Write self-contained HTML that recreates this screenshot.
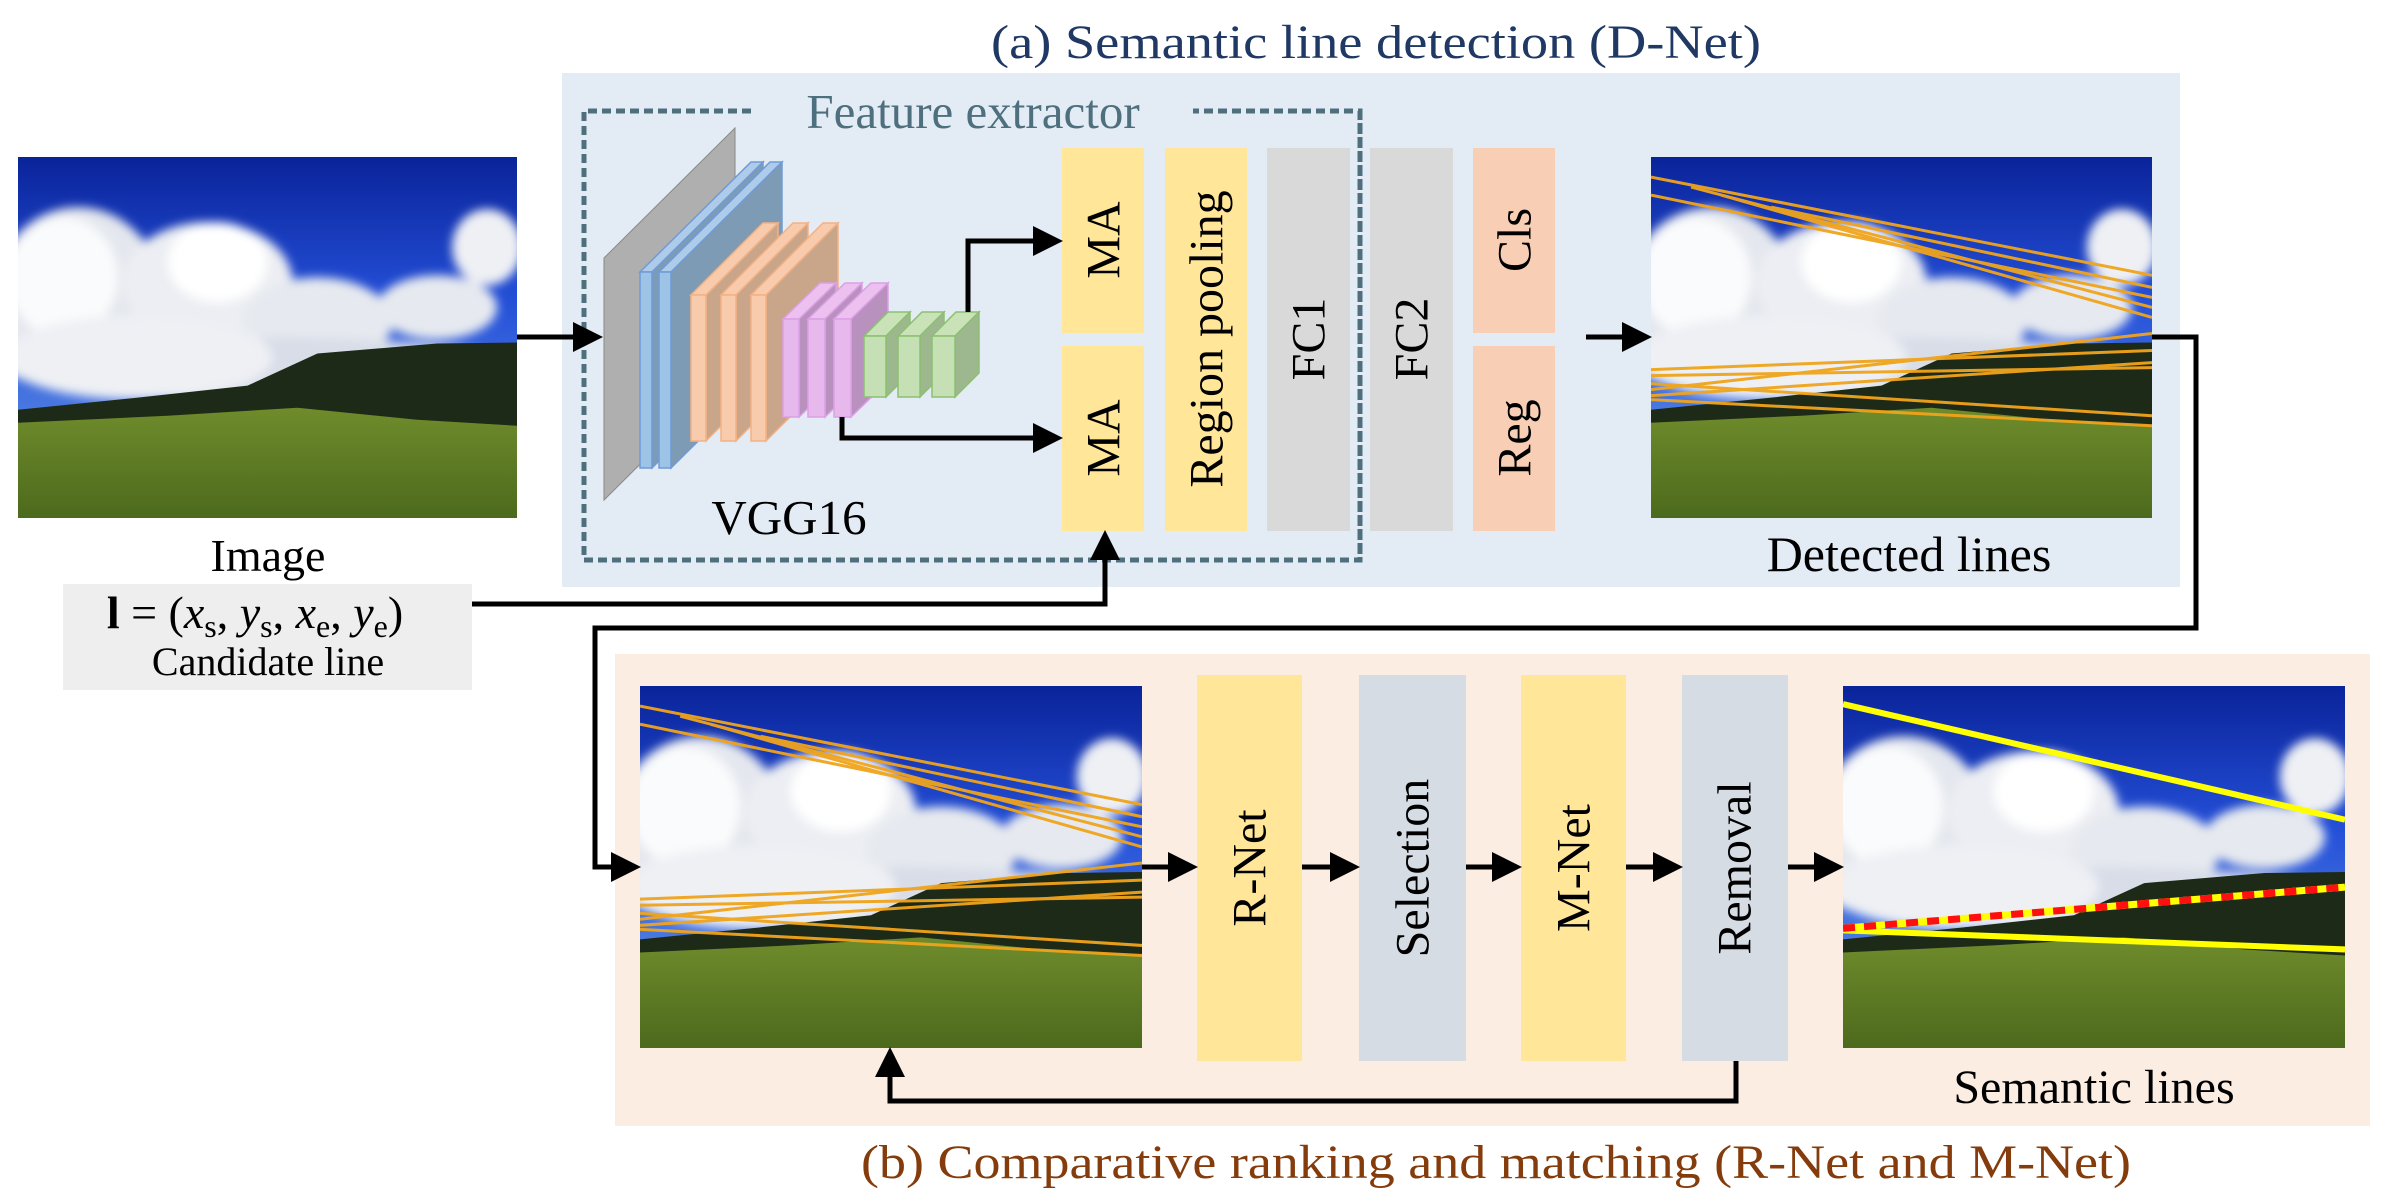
<!DOCTYPE html>
<html><head><meta charset="utf-8"><style>
html,body{margin:0;padding:0;background:#fff;}
svg{display:block;}
text{font-family:"Liberation Serif",serif;}
</style></head><body>
<svg width="2381" height="1202" viewBox="0 0 2381 1202" xmlns="http://www.w3.org/2000/svg">
<defs>
<linearGradient id="sky" x1="0" y1="0" x2="0" y2="1">
<stop offset="0" stop-color="#0a239a"/><stop offset="0.4" stop-color="#2450d8"/><stop offset="0.7" stop-color="#4a78e0"/></linearGradient>
<linearGradient id="grass" x1="0" y1="0" x2="0" y2="1">
<stop offset="0" stop-color="#6f8c2c"/><stop offset="1" stop-color="#4c6a1c"/></linearGradient>
<filter id="bl" x="-20%" y="-20%" width="140%" height="140%"><feGaussianBlur stdDeviation="5"/></filter>
<symbol id="land" viewBox="0 0 500 360" preserveAspectRatio="none">
<rect width="500" height="360" fill="url(#sky)"/>
<g filter="url(#bl)">
<ellipse cx="60" cy="140" rx="85" ry="90" fill="#e4e7ee"/>
<ellipse cx="45" cy="120" rx="55" ry="60" fill="#fafbfc"/>
<ellipse cx="190" cy="125" rx="85" ry="60" fill="#eceef3"/>
<ellipse cx="200" cy="105" rx="50" ry="40" fill="#ffffff"/>
<ellipse cx="300" cy="165" rx="75" ry="45" fill="#e6e9ef"/>
<ellipse cx="420" cy="150" rx="60" ry="32" fill="#e6e9ef"/>
<ellipse cx="470" cy="90" rx="35" ry="38" fill="#eef0f4"/>
<ellipse cx="250" cy="212" rx="260" ry="32" fill="#d8dde8"/>
<ellipse cx="120" cy="200" rx="135" ry="42" fill="#eef0f4"/>
</g>
<polygon points="0,252 120,240 230,228 300,196 420,186 500,185 500,280 0,290" fill="#1d2a17"/>
<polygon points="0,265 150,258 280,250 400,262 500,268 500,360 0,360" fill="url(#grass)"/>
</symbol>
<g id="olines" stroke="#f0a41c" stroke-width="3" fill="none" opacity="0.95">
<line x1="0" y1="20" x2="500" y2="118"/><line x1="0" y1="38" x2="500" y2="140"/>
<line x1="70" y1="38" x2="500" y2="160"/><line x1="40" y1="30" x2="500" y2="150"/>
<line x1="120" y1="50" x2="500" y2="130"/>
<line x1="0" y1="212" x2="500" y2="193"/><line x1="0" y1="232" x2="500" y2="176"/>
<line x1="0" y1="238" x2="500" y2="205"/><line x1="0" y1="242" x2="500" y2="268"/>
<line x1="0" y1="226" x2="500" y2="258"/><line x1="0" y1="218" x2="500" y2="210"/>
</g>
<marker id="ah" markerWidth="6" markerHeight="6" refX="5" refY="3" orient="auto" markerUnits="strokeWidth">
<path d="M0,0 L6,3 L0,6 z" fill="#000"/></marker>
</defs>

<text x="1376" y="58" font-size="48" fill="#203864" text-anchor="middle" textLength="770" lengthAdjust="spacingAndGlyphs">(a) Semantic line detection (D-Net)</text>
<text x="1496" y="1178" font-size="48" fill="#843c0c" text-anchor="middle" textLength="1270" lengthAdjust="spacingAndGlyphs">(b) Comparative ranking and matching (R-Net and M-Net)</text>

<rect x="562" y="73" width="1618" height="514" fill="#e3ebf5"/>
<rect x="615" y="654" width="1755" height="472" fill="#fbede2"/>

<g stroke="#4f6f7f" stroke-width="5" stroke-dasharray="9,5" fill="none">
<polyline points="751,111 584,111 584,560 1360,560 1360,111 1193,111"/>
</g>
<text x="973" y="128" font-size="49" fill="#4e6f7e" text-anchor="middle">Feature extractor</text>

<use href="#land" x="18" y="157" width="499" height="361"/>
<text x="268" y="571" font-size="46" text-anchor="middle">Image</text>
<rect x="63" y="584" width="409" height="106" fill="#eeeeee"/>
<text x="255" y="628" font-size="46" text-anchor="middle"><tspan font-weight="bold">l</tspan> = (<tspan font-style="italic">x</tspan><tspan font-size="32" dy="9">s</tspan><tspan dy="-9">, </tspan><tspan font-style="italic">y</tspan><tspan font-size="32" dy="9">s</tspan><tspan dy="-9">, </tspan><tspan font-style="italic">x</tspan><tspan font-size="32" dy="9">e</tspan><tspan dy="-9">, </tspan><tspan font-style="italic">y</tspan><tspan font-size="32" dy="9">e</tspan><tspan dy="-9">)</tspan></text>
<text x="268" y="675" font-size="40" text-anchor="middle">Candidate line</text>

<polygon points="604,258 735,128 735,370 604,500" fill="#afafaf" stroke="#8a8a8a" stroke-width="1"/>
<g stroke="#6f9bd6" stroke-width="1.5">
<polygon points="640,272 751,162 763,162 652,272" fill="#afcbea"/><polygon points="652,272 763,162 763,358 652,468" fill="#7d9bb5"/><rect x="640" y="272" width="12" height="196" fill="#9dc3e6"/>
<polygon points="659,272 770,162 782,162 671,272" fill="#afcbea"/><polygon points="671,272 782,162 782,358 671,468" fill="#7d9bb5"/><rect x="659" y="272" width="12" height="196" fill="#9dc3e6"/>
</g>
<g stroke="#f4b183" stroke-width="1.5">
<polygon points="691,295 763,223 778,223 706,295" fill="#f8cbad"/><polygon points="706,295 778,223 778,369 706,441" fill="#c9a58a"/><rect x="691" y="295" width="15" height="146" fill="#f8cbad"/>
<polygon points="721,295 793,223 808,223 736,295" fill="#f8cbad"/><polygon points="736,295 808,223 808,369 736,441" fill="#c9a58a"/><rect x="721" y="295" width="15" height="146" fill="#f8cbad"/>
<polygon points="751,295 823,223 838,223 766,295" fill="#f8cbad"/><polygon points="766,295 838,223 838,369 766,441" fill="#c9a58a"/><rect x="751" y="295" width="15" height="146" fill="#f8cbad"/>
</g>
<g stroke="#dc9fe6" stroke-width="1.5">
<polygon points="783,319 820,283 836,283 799,319" fill="#ecc1ef"/><polygon points="799,319 836,283 836,381 799,417" fill="#b891bf"/><rect x="783" y="319" width="16" height="98" fill="#e6b8ec"/>
<polygon points="808,319 845,283 862,283 825,319" fill="#ecc1ef"/><polygon points="825,319 862,283 862,381 825,417" fill="#b891bf"/><rect x="808" y="319" width="17" height="98" fill="#e6b8ec"/>
<polygon points="834,319 871,283 888,283 851,319" fill="#ecc1ef"/><polygon points="851,319 888,283 888,381 851,417" fill="#b891bf"/><rect x="834" y="319" width="17" height="98" fill="#e6b8ec"/>
</g>
<g stroke="#8cc070" stroke-width="1.5">
<polygon points="864,336 888,312 910,312 886,336" fill="#c9e2b8"/><polygon points="886,336 910,312 910,373 886,397" fill="#9db78e"/><rect x="864" y="336" width="22" height="61" fill="#c5e0b4"/>
<polygon points="898,336 922,312 944,312 920,336" fill="#c9e2b8"/><polygon points="920,336 944,312 944,373 920,397" fill="#9db78e"/><rect x="898" y="336" width="22" height="61" fill="#c5e0b4"/>
<polygon points="932,336 956,312 979,312 955,336" fill="#c9e2b8"/><polygon points="955,336 979,312 979,373 955,397" fill="#9db78e"/><rect x="932" y="336" width="23" height="61" fill="#c5e0b4"/>
</g>
<text x="789" y="534" font-size="49" text-anchor="middle">VGG16</text>

<rect x="1062" y="148" width="82" height="185" fill="#ffe699"/>
<rect x="1062" y="346" width="82" height="185" fill="#ffe699"/>
<rect x="1165" y="148" width="82" height="383" fill="#ffe699"/>
<rect x="1267" y="148" width="83" height="383" fill="#d9d9d9"/>
<rect x="1370" y="148" width="83" height="383" fill="#d9d9d9"/>
<rect x="1473" y="148" width="82" height="185" fill="#f8cfb4"/>
<rect x="1473" y="346" width="82" height="185" fill="#f8cfb4"/>
<line x1="1360" y1="111" x2="1360" y2="560" stroke="#4f6f7f" stroke-width="5" stroke-dasharray="9,5"/>
<g font-size="48" text-anchor="middle" dominant-baseline="central">
<text transform="translate(1104,240) rotate(-90)">MA</text>
<text transform="translate(1104,438) rotate(-90)">MA</text>
<text transform="translate(1207,339) rotate(-90)">Region pooling</text>
<text transform="translate(1309,339) rotate(-90)">FC1</text>
<text transform="translate(1412,339) rotate(-90)">FC2</text>
<text transform="translate(1515,240) rotate(-90)">Cls</text>
<text transform="translate(1515,438) rotate(-90)">Reg</text>
</g>

<svg x="1651" y="157" width="501" height="361" viewBox="0 0 500 360" preserveAspectRatio="none"><use href="#land" width="500" height="360"/><use href="#olines"/></svg>
<text x="1909" y="571" font-size="50" text-anchor="middle">Detected lines</text>

<rect x="1197" y="675" width="105" height="386" fill="#ffe699"/>
<rect x="1359" y="675" width="107" height="386" fill="#d6dce4"/>
<rect x="1521" y="675" width="105" height="386" fill="#ffe699"/>
<rect x="1682" y="675" width="106" height="386" fill="#d6dce4"/>
<g font-size="48" text-anchor="middle" dominant-baseline="central">
<text transform="translate(1250,868) rotate(-90)">R-Net</text>
<text transform="translate(1413,868) rotate(-90)">Selection</text>
<text transform="translate(1574,868) rotate(-90)">M-Net</text>
<text transform="translate(1735,868) rotate(-90)">Removal</text>
</g>

<svg x="640" y="686" width="502" height="362" viewBox="0 0 500 360" preserveAspectRatio="none"><use href="#land" width="500" height="360"/><use href="#olines"/></svg>
<svg x="1843" y="686" width="502" height="362" viewBox="0 0 500 360" preserveAspectRatio="none"><use href="#land" width="500" height="360"/>
<line x1="0" y1="18" x2="500" y2="133" stroke="#ffff00" stroke-width="6"/>
<line x1="0" y1="243" x2="500" y2="262" stroke="#ffff00" stroke-width="6"/>
<line x1="0" y1="241" x2="500" y2="200" stroke="#ffff00" stroke-width="7"/>
<line x1="0" y1="241" x2="500" y2="200" stroke="#ff1010" stroke-width="7" stroke-dasharray="12,9"/>
</svg>
<text x="2094" y="1103" font-size="48" text-anchor="middle">Semantic lines</text>

<g stroke="#000" stroke-width="5" fill="none" marker-end="url(#ah)">
<line x1="517" y1="337" x2="598" y2="337"/>
<polyline points="472,604 1105,604 1105,535"/>
<polyline points="968,312 968,241 1058,241"/>
<polyline points="842,417 842,438 1058,438"/>
<line x1="1586" y1="337" x2="1647" y2="337"/>
<polyline points="2152,337 2196,337 2196,628 595,628 595,867 636,867"/>
<line x1="1142" y1="867" x2="1193" y2="867"/>
<line x1="1302" y1="867" x2="1355" y2="867"/>
<line x1="1466" y1="867" x2="1517" y2="867"/>
<line x1="1626" y1="867" x2="1678" y2="867"/>
<line x1="1788" y1="867" x2="1839" y2="867"/>
<polyline points="1736,1061 1736,1101 890,1101 890,1052"/>
</g>
</svg>
</body></html>
